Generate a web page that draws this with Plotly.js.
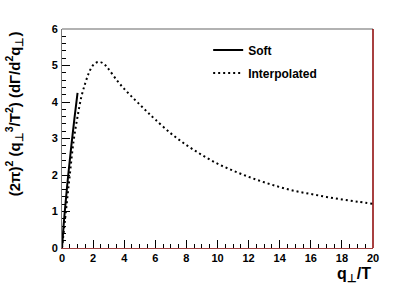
<!DOCTYPE html>
<html>
<head>
<meta charset="utf-8">
<script src="https://cdn.plot.ly/plotly-3.0.1.min.js"></script>
<style>html,body{margin:0;padding:0;background:#fff;}#chart{width:415px;height:292px;}</style>
</head>
<body>
<div id="chart"></div>
<script>
var softX = [0, 0.1, 0.2, 0.4, 0.6, 0.8, 1.0];
var softY = [0, 0.6, 1.1, 2.0, 2.8, 3.55, 4.25];

var interpX = [0, 0.25, 0.5, 0.75, 1.0, 1.25, 1.5, 1.75, 2.0, 2.2, 2.4, 2.6, 2.8, 3.0, 3.5, 4.0, 4.5, 5, 5.5, 6, 7, 8, 9, 10, 11, 12, 13, 14, 15, 16, 17, 18, 19, 20];
var interpY = [0, 1.0, 2.0, 2.95, 3.6, 4.15, 4.52, 4.82, 5.01, 5.08, 5.1, 5.07, 5.0, 4.9, 4.61, 4.36, 4.14, 3.93, 3.72, 3.52, 3.14, 2.82, 2.55, 2.31, 2.12, 1.95, 1.8, 1.67, 1.56, 1.48, 1.4, 1.33, 1.27, 1.21];

var seriesNames = ["Soft", "Interpolated"];
var xTitle = "q<sub>⊥</sub>/T";
var yTitle = "(2π)<sup>2</sup> (q<sub>⊥</sub><sup>3</sup>/T<sup>2</sup>) (dΓ/d<sup>2</sup>q<sub>⊥</sub>)";

var font = "Liberation Sans, Arial, Helvetica, sans-serif";

var traces = [
  {x: softX, y: softY, mode: "lines", name: seriesNames[0], legendgroup: "a",
   line: {color: "#000", width: 2, shape: "spline"}},
  {x: interpX, y: interpY, mode: "lines", name: seriesNames[1], legendgroup: "b",
   line: {color: "#000", width: 2, dash: "2px,3px", shape: "spline"}}
];

var axisCommon = {
  ticks: "inside", tickcolor: "#000", ticklen: 8, tickwidth: 1,
  showgrid: false, zeroline: false, showline: true,
  tickfont: {family: font, size: 11, color: "#000", weight: "bold"}
};

var layout = {
  width: 415, height: 292,
  margin: {l: 62, r: 42, t: 29, b: 44},
  paper_bgcolor: "#fff", plot_bgcolor: "#fff",
  showlegend: true,
  legend: {x: 0.47, y: 0.97, xanchor: "left", yanchor: "top",
           bgcolor: "rgba(0,0,0,0)", tracegroupgap: 4,
           font: {family: font, size: 12, color: "#000", weight: "bold"}},
  xaxis: Object.assign({}, axisCommon, {
    range: [0, 20], dtick: 2, linecolor: "#a04040", linewidth: 1,
    minor: {dtick: 0.5, ticks: "inside", ticklen: 4, tickcolor: "#000"}
  }),
  yaxis: Object.assign({}, axisCommon, {
    range: [0, 6], dtick: 1, linecolor: "#777", linewidth: 1, ticklabelstandoff: 1,
    minor: {dtick: 0.2, ticks: "inside", ticklen: 4, tickcolor: "#000"}
  }),
  shapes: [
    {type: "line", xref: "paper", yref: "paper", x0: 0, x1: 1, y0: 1, y1: 1, line: {color: "#999", width: 1.5}},
    {type: "line", xref: "paper", yref: "paper", x0: 1, x1: 1, y0: 0, y1: 1, line: {color: "#8b0000", width: 1.5}}
  ],
  annotations: [
    {text: xTitle, xref: "paper", yref: "paper", x: 1, y: -0.07, xanchor: "right", yanchor: "top",
     showarrow: false, font: {family: font, size: 16, color: "#000", weight: "bold"}},
    {text: yTitle, xref: "paper", yref: "paper", x: -0.155, y: 1.0, xanchor: "center", yanchor: "top",
     textangle: -90, showarrow: false, font: {family: font, size: 15, color: "#000", weight: "bold"}}
  ]
};

Plotly.newPlot("chart", traces, layout, {staticPlot: true, displayModeBar: false});
</script>
</body>
</html>
